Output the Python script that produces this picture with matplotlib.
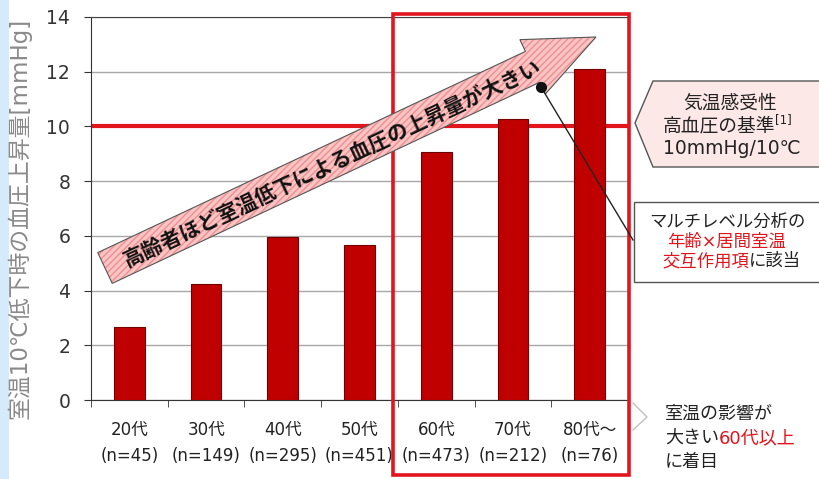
import numpy as np
import matplotlib.pyplot as plt
from matplotlib.patches import Rectangle, FancyArrow, Polygon
from matplotlib.transforms import IdentityTransform
from matplotlib.lines import Line2D
from matplotlib.text import Annotation

plt.rcParams['font.family'] = ['DejaVu Sans', 'Noto Sans CJK JP']

# data
ages = ['20代', '30代', '40代', '50代', '60代', '70代', '80代～']
counts = [45, 149, 295, 451, 473, 212, 76]
rise = [2.67, 4.24, 5.96, 5.67, 9.06, 10.27, 12.1]
threshold = 10
yticks = [0, 2, 4, 6, 8, 10, 12, 14]

W, H = 819, 479
RED = '#e2151d'
INK = '#222222'

def px(x, y):
    # image pixel -> figure fraction
    return x / W, 1 - y / H

def after(fig, t, s, **kw):
    # put text s right after text t on the same line
    a = Annotation(s, xy=(1, 0), xycoords=t, ha='left', va='bottom', **kw)
    fig.add_artist(a)
    return a

fig = plt.figure(figsize=(W / 100, H / 100), dpi=100)
fig.patch.set_facecolor('white')
fig.add_artist(Rectangle((0, 0), 9 / W, 1, transform=fig.transFigure,
                         facecolor='#d5eafa', edgecolor='none'))

ax = fig.add_axes([91 / W, 1 - 400 / H, (628 - 91) / W, (400 - 17) / H])
x = np.arange(len(ages))
ax.bar(x, rise, width=0.4, color='#c00000', edgecolor='#6e0000', linewidth=0.8, zorder=3)
ax.axhline(threshold, color=RED, lw=3, zorder=2)

ax.set_xlim(-0.5, len(ages) - 0.5)
ax.set_ylim(0, 14)
ax.set_yticks(yticks)
ax.yaxis.grid(True, color='#a8a8a8', lw=1, zorder=0)
ax.set_axisbelow(True)
ax.spines['right'].set_visible(False)
ax.spines['top'].set_color('#444444')
ax.spines['left'].set_color('#333333')
ax.spines['bottom'].set_color('#333333')
ax.tick_params(axis='y', labelsize=13.5, labelcolor='#333333', length=5, pad=10, color='#333333')
ax.set_xticks(x)
ax.set_xticklabels([f'{a}\n(n={n})' for a, n in zip(ages, counts)],
                   fontsize=12, color=INK, linespacing=1.6)
ax.tick_params(axis='x', length=0, pad=15)
ax.set_xticks(np.arange(-0.5, len(ages), 1), minor=True)
ax.tick_params(axis='x', which='minor', length=5, color='#333333')

fig.text(*px(19, 218), '室温10℃低下時の血圧上昇量[mmHg]', rotation=90,
         ha='center', va='center', fontsize=16.5, color='#8a8a8a')

# red box around 60代 and up
x0, y0 = px(393, 475)
x1, y1 = px(629, 14)
fig.add_artist(Rectangle((x0, y0), x1 - x0, y1 - y0, transform=fig.transFigure,
                         facecolor='none', edgecolor=RED, lw=2.6, zorder=5))

# big trend arrow (pixel coords)
tail = (105, H - 268)
tip = (596, H - 37)
dx, dy = tip[0] - tail[0], tip[1] - tail[1]
for kw in [dict(facecolor='#f9c4c4', edgecolor='#ef8f8f', lw=0, hatch='/////'),
           dict(facecolor='none', edgecolor='#555555', lw=0.8)]:
    fig.add_artist(FancyArrow(tail[0], tail[1], dx, dy, width=34, head_width=60,
                              head_length=70, length_includes_head=True,
                              transform=IdentityTransform(), zorder=6, **kw))
ang = np.degrees(np.arctan2(dy, dx))
fig.text(333, H - 164, '高齢者ほど室温低下による血圧の上昇量が大きい',
         transform=IdentityTransform(), rotation=ang, rotation_mode='anchor',
         ha='center', va='center', fontsize=15, fontweight='bold', color='#111111', zorder=7)

# pointer from arrow to box
fig.add_artist(Line2D([541, 633], [H - 87, H - 240], transform=IdentityTransform(),
                      color=INK, lw=1, zorder=7))
fig.add_artist(Line2D([541], [H - 87], transform=IdentityTransform(), marker='o',
                      markersize=7, color='#111111', zorder=8))

# callout: threshold
pent = [px(635, 123), px(653, 81), px(822, 81), px(822, 167), px(653, 167)]
fig.add_artist(Polygon(pent, closed=True, transform=fig.transFigure,
                       facecolor='#fde8e8', edgecolor='#555555', lw=1))
fig.text(*px(730, 103), '気温感受性', ha='center', va='center', fontsize=13.5, color=INK)
t = fig.text(*px(663, 126), '高血圧の基準', ha='left', va='center', fontsize=13.5, color=INK)
after(fig, t, '[1]', fontsize=8.5, color=INK, xytext=(0, 7), textcoords='offset points')
fig.text(*px(732, 149), '10mmHg/10℃', ha='center', va='center', fontsize=13.5, color=INK)

# callout: multilevel analysis
fig.add_artist(Rectangle(px(634, 282), (822 - 634) / W, (282 - 202) / H,
                         transform=fig.transFigure, facecolor='white',
                         edgecolor='#555555', lw=1))
fig.text(*px(727, 222), 'マルチレベル分析の', ha='center', va='center', fontsize=12.5, color=INK)
fig.text(*px(727, 242), '年齢×居間室温', ha='center', va='center', fontsize=12.5, color=RED)
t = fig.text(*px(662, 261), '交互作用項', ha='left', va='center', fontsize=12.5, color=RED)
after(fig, t, 'に該当', fontsize=12.5, color=INK)

# bottom right note
fig.add_artist(Line2D([633, 647, 633], [H - 403, H - 417, H - 430],
                      transform=IdentityTransform(), color='#c0c0c0', lw=1))
fig.text(*px(665, 414), '室温の影響が', ha='left', va='center', fontsize=13, color=INK)
t = fig.text(*px(665, 438), '大きい', ha='left', va='center', fontsize=13, color=INK)
after(fig, t, '60代以上', fontsize=13, color=RED)
fig.text(*px(665, 462), 'に着目', ha='left', va='center', fontsize=13, color=INK)

fig.savefig('out.png', dpi=100)
